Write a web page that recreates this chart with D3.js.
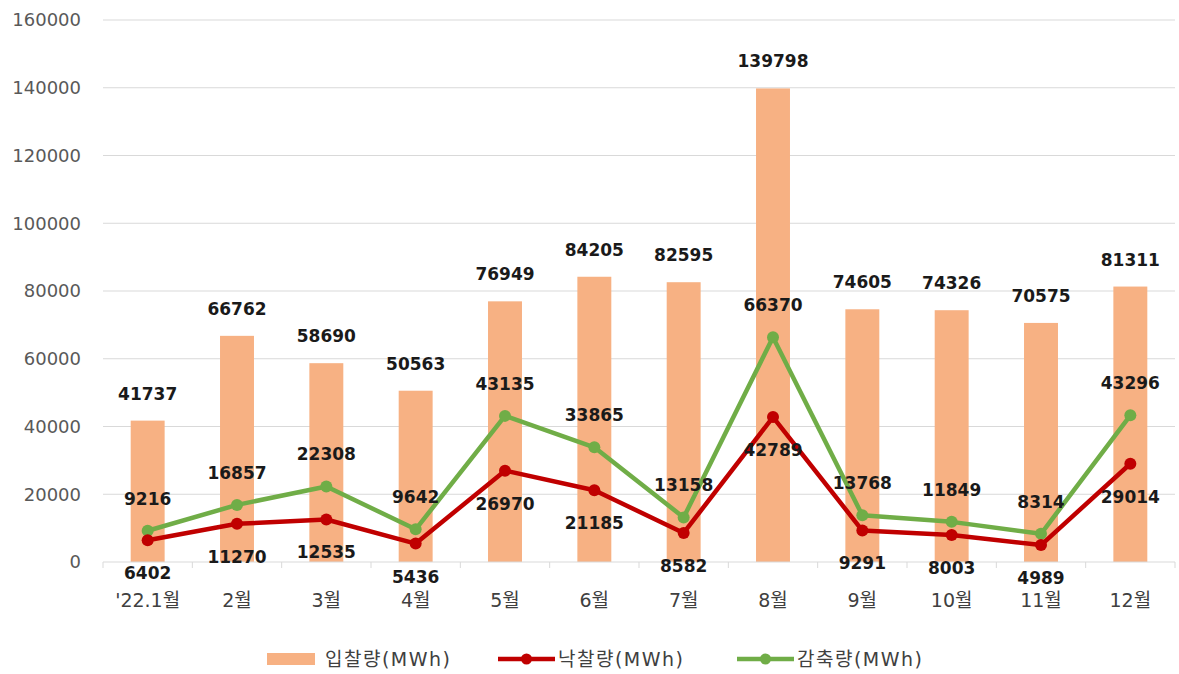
<!DOCTYPE html>
<html>
<head>
<meta charset="utf-8">
<script src="https://cdn.jsdelivr.net/npm/d3@7"></script>
<style>
  body { margin: 0; background: #fff; }
  svg { display: block; font-family: "DejaVu Sans", "Noto Sans CJK KR", sans-serif; }
</style>
</head>
<body>
<svg id="chart"></svg>
<script>
// ====== data ======
const months = ["'22.1월", "2월", "3월", "4월", "5월", "6월", "7월", "8월", "9월", "10월", "11월", "12월"];
const bidVolume = [41737, 66762, 58690, 50563, 76949, 84205, 82595, 139798, 74605, 74326, 70575, 81311];
const awardVolume = [6402, 11270, 12535, 5436, 26970, 21185, 8582, 42789, 9291, 8003, 4989, 29014];
const curtailVolume = [9216, 16857, 22308, 9642, 43135, 33865, 13158, 66370, 13768, 11849, 8314, 43296];
const yTicks = [0, 20000, 40000, 60000, 80000, 100000, 120000, 140000, 160000];
const seriesNames = ["입찰량(MWh)", "낙찰량(MWh)", "감축량(MWh)"];

// ====== setup ======
const width = 1179, height = 674;
const margin = {top: 20, right: 4, bottom: 112, left: 103};

const svg = d3.select('#chart').attr('width', width).attr('height', height);

const x = d3.scaleBand()
  .domain(months)
  .range([margin.left, width - margin.right])
  .paddingInner(0.62)
  .paddingOuter(0.31);

const y = d3.scaleLinear()
  .domain([0, 160000])
  .range([height - margin.bottom, margin.top]);

const barColor = "#F7B183",
      redColor = "#C00000",
      greenColor = "#70AD47";

// ====== gridlines ======
svg.append('g')
  .selectAll('line')
  .data(yTicks.slice(1))
  .enter().append('line')
  .attr('x1', margin.left)
  .attr('x2', width - margin.right)
  .attr('y1', d => y(d))
  .attr('y2', d => y(d))
  .attr('stroke', '#D9D9D9')
  .attr('stroke-width', 1);

// y tick labels
svg.append('g')
  .selectAll('text')
  .data(yTicks)
  .enter().append('text')
  .attr('x', 81)
  .attr('y', d => y(d))
  .attr('dy', '0.35em')
  .attr('text-anchor', 'end')
  .attr('fill', '#595959')
  .style('font-size', '18px')
  .text(d => d);

// ====== bars ======
svg.append('g')
  .selectAll('rect')
  .data(bidVolume)
  .enter().append('rect')
  .attr('x', (d, i) => x(months[i]))
  .attr('width', x.bandwidth())
  .attr('y', d => y(d))
  .attr('height', d => y(0) - y(d))
  .attr('fill', barColor);

// x axis line + ticks at band borders
const step = x.step();
const xAxis = svg.append('g');
xAxis.append('line')
  .attr('x1', margin.left)
  .attr('x2', width - margin.right)
  .attr('y1', y(0))
  .attr('y2', y(0))
  .attr('stroke', '#D9D9D9');
xAxis.selectAll('line.tick')
  .data(d3.range(months.length + 1))
  .enter().append('line')
  .attr('class', 'tick')
  .attr('x1', i => margin.left + i * step)
  .attr('x2', i => margin.left + i * step)
  .attr('y1', y(0))
  .attr('y2', y(0) + 6)
  .attr('stroke', '#D9D9D9');
xAxis.selectAll('text')
  .data(months)
  .enter().append('text')
  .attr('x', d => x(d) + x.bandwidth() / 2)
  .attr('y', y(0) + 38)
  .attr('dy', '0.35em')
  .attr('text-anchor', 'middle')
  .attr('fill', '#404040')
  .style('font-size', '19px')
  .text(d => d);

// bar labels
svg.append('g')
  .selectAll('text')
  .data(bidVolume)
  .enter().append('text')
  .attr('x', (d, i) => x(months[i]) + x.bandwidth() / 2)
  .attr('y', d => y(d) - 27)
  .attr('dy', '0.35em')
  .attr('text-anchor', 'middle')
  .attr('fill', '#1a1a1a')
  .style('font-size', '17px')
  .style('font-weight', 'bold')
  .text(d => d);

// ====== lines ======
const cx = i => x(months[i]) + x.bandwidth() / 2;
const line = d3.line().x((d, i) => cx(i)).y(d => y(d));

function drawSeries(values, color) {
  const g = svg.append('g');
  g.append('path')
    .datum(values)
    .attr('d', line)
    .attr('fill', 'none')
    .attr('stroke', color)
    .attr('stroke-width', 4.5)
    .attr('stroke-linejoin', 'round');
  g.selectAll('circle')
    .data(values)
    .enter().append('circle')
    .attr('cx', (d, i) => cx(i))
    .attr('cy', d => y(d))
    .attr('r', 6)
    .attr('fill', color);
  return g;
}

drawSeries(curtailVolume, greenColor);
drawSeries(awardVolume, redColor);

// line labels (green above, red below)
function drawLabels(values, offset) {
  svg.append('g')
    .selectAll('text')
    .data(values)
    .enter().append('text')
    .attr('x', (d, i) => cx(i))
    .attr('y', d => y(d) + offset)
    .attr('dy', '0.35em')
    .attr('text-anchor', 'middle')
    .attr('fill', '#1a1a1a')
    .style('font-size', '17px')
    .style('font-weight', 'bold')
    .text(d => d);
}
drawLabels(curtailVolume, -32);
drawLabels(awardVolume, 33);

// ====== legend ======
const legend = svg.append('g').attr('transform', 'translate(0,659)');
legend.append('rect')
  .attr('x', 267).attr('y', -6).attr('width', 48).attr('height', 12)
  .attr('fill', barColor);
legend.append('text')
  .attr('x', 325).attr('y', 0).attr('dy', '0.35em')
  .attr('fill', '#404040').style('font-size', '19px')
  .style('letter-spacing', '1.5px')
  .text(seriesNames[0]);

[[498, redColor, seriesNames[1]], [737, greenColor, seriesNames[2]]].forEach(([lx, color, name]) => {
  legend.append('line')
    .attr('x1', lx).attr('x2', lx + 57)
    .attr('y1', 0).attr('y2', 0)
    .attr('stroke', color).attr('stroke-width', 4.5);
  legend.append('circle')
    .attr('cx', lx + 28.5).attr('cy', 0).attr('r', 5.5)
    .attr('fill', color);
  legend.append('text')
    .attr('x', lx + 60).attr('y', 0).attr('dy', '0.35em')
    .attr('fill', '#404040').style('font-size', '19px')
    .style('letter-spacing', '1.5px')
    .text(name);
});
</script>
</body>
</html>
